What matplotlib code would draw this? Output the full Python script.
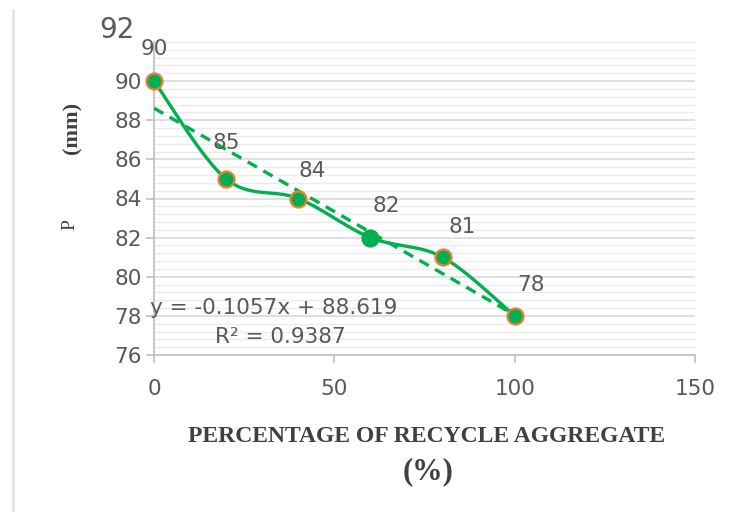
import numpy as np
import matplotlib
matplotlib.use("Agg")
import matplotlib.pyplot as plt
from matplotlib.ticker import MultipleLocator
from matplotlib.lines import Line2D

# ---- data ----
x_vals = [0, 20, 40, 60, 80, 100]
p_vals = [90, 85, 84, 82, 81, 78]
point_labels = ["90", "85", "84", "82", "81", "78"]
slope = -0.1057
intercept = 88.619
eq_text = "y = -0.1057x + 88.619"
r2_text = "R² = 0.9387"
x_ticks = [0, 50, 100, 150]
y_ticks = [76, 78, 80, 82, 84, 86, 88, 90]
top_tick_label = "92"
x_title = "PERCENTAGE OF RECYCLE AGGREGATE"
x_title2 = "(%)"
y_title_a = "P"
y_title_b = "(mm)"

# ---- styling ----
GREEN = "#00B050"
ORANGE = "#ED7D31"
TXT = "#595959"
TITLE = "#404040"

def smooth_curve(xs, ys, n=40):
    """Excel-like smoothed line (Catmull-Rom -> cubic Bezier)."""
    pts = np.column_stack([xs, ys]).astype(float)
    out = []
    for i in range(len(pts) - 1):
        p0 = pts[i - 1] if i > 0 else pts[i]
        p1 = pts[i]
        p2 = pts[i + 1]
        p3 = pts[i + 2] if i + 2 < len(pts) else pts[i + 1]
        c1 = p1 + (p2 - p0) / 6.0
        c2 = p2 - (p3 - p1) / 6.0
        t = np.linspace(0, 1, n)[:, None]
        seg = ((1 - t) ** 3) * p1 + 3 * ((1 - t) ** 2) * t * c1 + 3 * (1 - t) * t ** 2 * c2 + t ** 3 * p2
        out.append(seg if i == 0 else seg[1:])
    s = np.vstack(out)
    return s[:, 0], s[:, 1]

fig = plt.figure(figsize=(7.44, 5.12), dpi=100)
fig.patch.set_facecolor("white")
ax = fig.add_axes([154 / 744, 1 - 355 / 512, 541 / 744, 313 / 512])

ax.set_xlim(0, 150)
ax.set_ylim(76, 92)
ax.set_xticks(x_ticks)
ax.set_yticks(y_ticks)
ax.yaxis.set_minor_locator(MultipleLocator(0.4))

ax.grid(True, which="major", axis="y", color="#D9D9D9", lw=1.2)
ax.grid(True, which="minor", axis="y", color="#EBEBEB", lw=1.0)
ax.set_axisbelow(True)
for sp in ["top", "right"]:
    ax.spines[sp].set_visible(False)
ax.spines["left"].set_color("#BFBFBF")
ax.spines["bottom"].set_color("#BFBFBF")
ax.spines["left"].set_linewidth(1.2)
ax.spines["bottom"].set_linewidth(1.2)

ax.tick_params(axis="both", which="major", colors="#BFBFBF", length=6, width=1.2,
               labelcolor=TXT, labelsize=15.5)
ax.tick_params(axis="y", which="minor", length=0)
ax.tick_params(axis="x", pad=11)
ax.tick_params(axis="y", pad=3)

# top "92" label drawn larger
ax.annotate(top_tick_label, xy=(0, 1), xycoords="axes fraction", xytext=(-14, 9),
            textcoords="offset points", ha="right", va="center", fontsize=20, color=TXT)

# trendline
tx = np.array([x_vals[0], x_vals[-1]], dtype=float)
ax.plot(tx, slope * tx + intercept, ls=(0, (3.2, 2.2)), color=GREEN, lw=2.4, zorder=3)

# smoothed series
sx, sy = smooth_curve(x_vals, p_vals)
ax.plot(sx, sy, color=GREEN, lw=2.4, zorder=4)
edge_colors = [ORANGE, ORANGE, ORANGE, GREEN, ORANGE, ORANGE]
for xv, yv, ec in zip(x_vals, p_vals, edge_colors):
    ax.plot([xv], [yv], marker="o", ms=11.5, mfc=GREEN, mec=ec, mew=1.6, zorder=5,
            clip_on=False)

# data labels (offsets in points)
label_offsets = [(0, 23), (0, 26), (10, 20), (11.5, 23), (14, 22), (11.5, 22.5)]
for xv, yv, lab, off in zip(x_vals, p_vals, point_labels, label_offsets):
    ax.annotate(lab, (xv, yv), xytext=off, textcoords="offset points",
                ha="center", va="center", fontsize=15.5, color=TXT, zorder=6)

# equation
ax.annotate(eq_text, xy=(0, 0), xycoords="axes fraction", xytext=(-3, 34),
            textcoords="offset points", ha="left", va="center", fontsize=15.5, color=TXT)
ax.annotate(r2_text, xy=(0, 0), xycoords="axes fraction", xytext=(91, 13),
            textcoords="offset points", ha="center", va="center", fontsize=15.5, color=TXT)

# axis titles
fig.text(427 / 744, 1 - 437 / 512, x_title, ha="center", va="center",
         fontsize=17, fontweight="bold", family="Liberation Serif", color=TITLE)
fig.text(428 / 744, 1 - 472 / 512, x_title2, ha="center", va="center",
         fontsize=22, fontweight="bold", family="Liberation Serif", color=TITLE)
fig.text(72 / 744, 1 - 128 / 512, y_title_b, ha="center", va="center", rotation=90,
         fontsize=16, fontweight="bold", family="Liberation Serif", color=TITLE)
fig.text(70 / 744, 1 - 225 / 512, y_title_a, ha="center", va="center", rotation=90,
         fontsize=14, family="Liberation Serif", color=TITLE)

# chart-area left border line
fig.add_artist(Line2D([13 / 744, 13 / 744], [0, 1 - 10 / 512], transform=fig.transFigure,
                      color="#E3E3E3", lw=2))

fig.savefig("out.png", dpi=100, facecolor="white")
